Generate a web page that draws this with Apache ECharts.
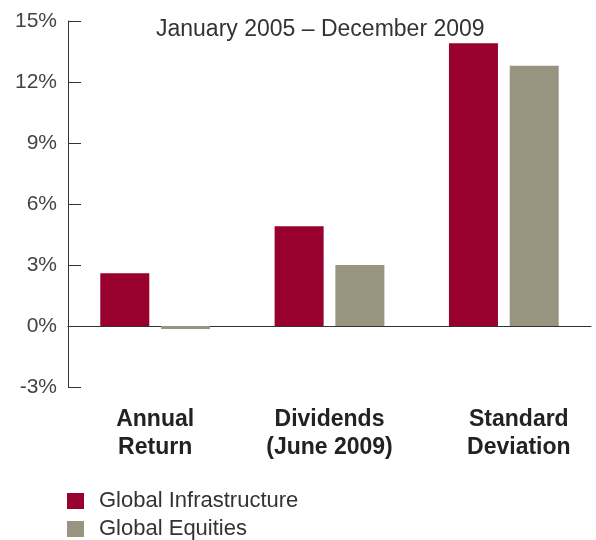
<!DOCTYPE html>
<html>
<head>
<meta charset="utf-8">
<script src="https://cdn.jsdelivr.net/npm/echarts@6/dist/echarts.min.js"></script>
<style>
  html, body {margin: 0; padding: 0; background: #fff;}
  #chart {width: 596px; height: 540px;}
</style>
</head>
<body>
<div id="chart"></div>
<script>
const categories = ['Annual\nReturn', 'Dividends\n(June 2009)', 'Standard\nDeviation']
const infrastructure = [2.6, 4.9, 13.9]
const equities = [-0.15, 3.0, 12.8]
const seriesNames = ['Global Infrastructure', 'Global Equities']
const subtitle = 'January 2005 \u2013 December 2009'

const font = '"Liberation Sans", Arial, sans-serif'
const chart = echarts.init(document.getElementById('chart'))

// last label sits a bit right of its slot in the original
const categoryData = categories.map((c, i) => (
  i === 2 ? {value: c, textStyle: {padding: [0, 0, 0, 30]}} : c
))

chart.setOption({
  animation: false,
  title: {
    text: subtitle,
    left: 156,
    top: 18,
    padding: 0,
    textStyle: {fontFamily: font, fontSize: 23, fontWeight: 'normal', color: '#333'},
  },
  legend: {
    orient: 'vertical',
    left: 67,
    top: 490,
    padding: 0,
    itemWidth: 17,
    itemHeight: 16,
    itemGap: 6,
    icon: 'rect',
    data: seriesNames,
    textStyle: {fontFamily: font, fontSize: 22, lineHeight: 22, color: '#333', padding: [0, 0, 0, 10]},
  },
  grid: {left: 68, right: 5, top: 21, bottom: 153},
  xAxis: {
    type: 'category',
    data: categoryData,
    axisLine: {onZero: true, lineStyle: {color: '#333', width: 1}},
    axisTick: {inside: true, length: 9, lineStyle: {color: '#888', width: 1}},
    axisLabel: {
      margin: 19,
      fontFamily: font,
      fontSize: 23,
      fontWeight: 'bold',
      color: '#222',
      lineHeight: 28,
    },
  },
  yAxis: {
    type: 'value',
    min: -3,
    max: 15,
    interval: 3,
    splitLine: {show: false},
    axisLine: {show: true, lineStyle: {color: '#333', width: 1}},
    axisTick: {show: true, inside: true, length: 13, lineStyle: {color: '#333'}},
    axisLabel: {
      margin: 11,
      fontFamily: font,
      fontSize: 21,
      color: '#444',
      formatter: v => v + '%',
    },
  },
  series: [
    {
      name: seriesNames[0],
      type: 'bar',
      data: infrastructure,
      barWidth: 49,
      barGap: '24%',
      itemStyle: {color: '#98002E'},
    },
    {
      name: seriesNames[1],
      type: 'bar',
      data: equities,
      barWidth: 49,
      itemStyle: {color: '#979480'},
    },
  ],
})
</script>
</body>
</html>
